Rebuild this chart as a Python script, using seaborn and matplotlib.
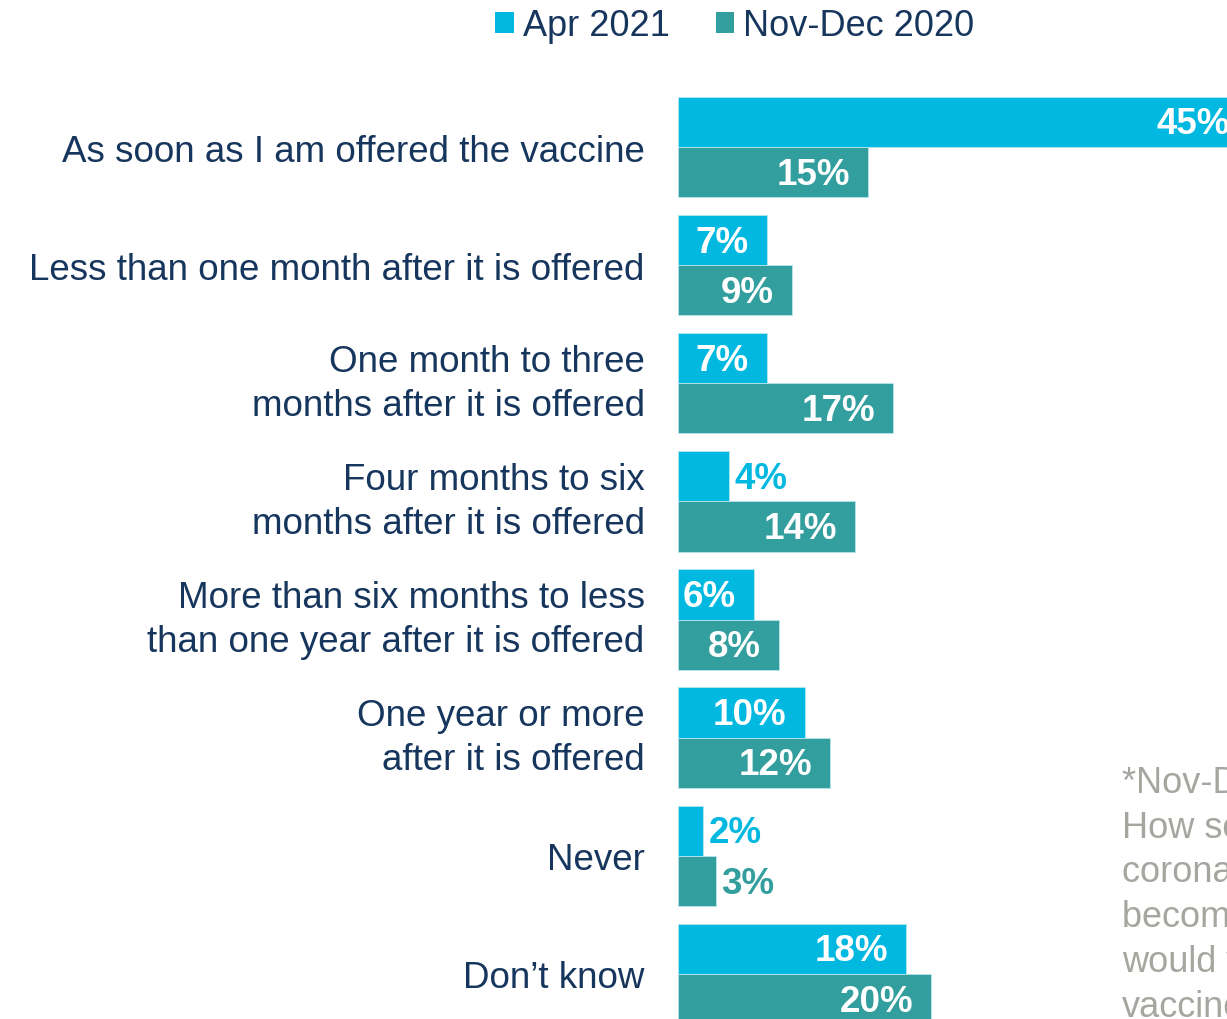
import matplotlib
matplotlib.use("Agg")
import matplotlib.pyplot as plt
import seaborn as sns
import pandas as pd
from matplotlib.patches import Patch

categories = [
    "As soon as I am offered the vaccine",
    "Less than one month after it is offered",
    "One month to three\nmonths after it is offered",
    "Four months to six\nmonths after it is offered",
    "More than six months to less\nthan one year after it is offered",
    "One year or more\nafter it is offered",
    "Never",
    "Don\u2019t know",
]
series_names = ["Apr 2021", "Nov-Dec 2020"]
apr_2021 = [45, 7, 7, 4, 6, 10, 2, 18]
nov_dec_2020 = [15, 9, 17, 14, 8, 12, 3, 20]
footnote = ("*Nov-Dec 2020 question:\nHow soon after a\ncoronavirus vaccine\n"
            "becomes available\nwould you take the\nvaccine?")

colors = ["#00B8E0", "#339E9E"]
navy = "#17365D"

df = pd.DataFrame({
    "category": categories * 2,
    "series": [series_names[0]] * len(categories) + [series_names[1]] * len(categories),
    "value": apr_2021 + nov_dec_2020,
})

sns.set_theme(style="white")
plt.rcParams["font.family"] = ["Liberation Sans", "DejaVu Sans"]

W, H = 1227, 1020
fig = plt.figure(figsize=(W / 100, H / 100), dpi=100)
px_per_unit = 12.67
x0 = 678
xmax = 50
ax_w = xmax * px_per_unit
group_px = 118.14
top_px = 148 - group_px / 2
ax_h = group_px * 8
ax = fig.add_axes([x0 / W, (H - top_px - ax_h) / H, ax_w / W, ax_h / H])

sns.barplot(data=df, y="category", x="value", hue="series", orient="h",
            palette=colors, saturation=1, width=0.85, ax=ax, legend=False,
            edgecolor="#B8E6EE", linewidth=0.6)
ax.set_xlim(0, xmax)
ax.set_ylim(7.5, -0.5)
ax.set_xlabel("")
ax.set_ylabel("")
ax.set_xticks([])
for s in ax.spines.values():
    s.set_visible(False)
ax.tick_params(axis="y", length=0, pad=24, labelsize=26.5, labelcolor=navy)
for t in ax.get_yticklabels():
    t.set_linespacing(1.32)
    if "\n" in t.get_text():
        t.set_verticalalignment("center")

for cont, col in zip(ax.containers, colors):
    for bar in cont:
        v = bar.get_width()
        yc = bar.get_y() + bar.get_height() / 2
        lbl = f"{v:.0f}%"
        if v >= 6:
            ax.annotate(lbl, (v, yc), xytext=(-13, -1.5), textcoords="offset points",
                        ha="right", va="center", color="white",
                        fontsize=26.5, fontweight="bold", annotation_clip=False)
        else:
            ax.annotate(lbl, (v, yc), xytext=(4, -1.5), textcoords="offset points",
                        ha="left", va="center", color=col,
                        fontsize=26.5, fontweight="bold", annotation_clip=False)

handles = [Patch(facecolor=c, edgecolor="none") for c in colors]
fig.legend(handles, series_names, loc="center", bbox_to_anchor=(735 / W, 1 - 27 / H),
           ncol=2, frameon=False, fontsize=26, labelcolor=navy,
           handlelength=0.5, handleheight=0.5, handletextpad=0.25,
           columnspacing=1.3, borderaxespad=0)

fig.text(1122 / W, 1 - 766 / H, footnote, ha="left", va="top", fontsize=26,
         color="#A6A6A0", linespacing=1.36)

fig.savefig("out.png", dpi=100)
